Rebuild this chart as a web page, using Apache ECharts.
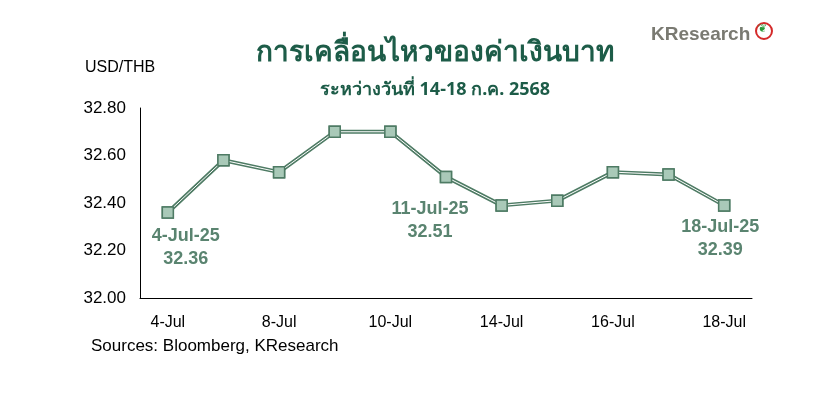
<!DOCTYPE html><html><head><meta charset="utf-8"><script src="https://cdn.jsdelivr.net/npm/echarts@6/dist/echarts.min.js"></script>
<style>body{margin:0;background:#fff}#c{width:838px;height:404px}</style></head><body><div id="c"></div><script>
const categories=['4-Jul','7-Jul','8-Jul','9-Jul','10-Jul','11-Jul','14-Jul','15-Jul','16-Jul','17-Jul','18-Jul'];
const values=[32.36,32.58,32.53,32.70,32.70,32.51,32.39,32.41,32.53,32.52,32.39];
const labelled={0:'4-Jul-25',5:'11-Jul-25',10:'18-Jul-25'};
const labelShift={0:[18,0],5:[-16,8],10:[-4,-2]};
const F='Liberation Sans, Arial, sans-serif';
const dark='#4e7b64';
const data=values.map((v,i)=>labelled[i]?{value:v,label:{show:true,position:'bottom',distance:6,offset:labelShift[i],formatter:labelled[i]+'\n'+v.toFixed(2),color:'#5a8470',fontSize:18,fontWeight:'bold',fontFamily:F,lineHeight:23,align:'center'}}:v);
const c=echarts.init(document.getElementById('c'));
c.setOption({animation:false,
grid:{left:140,right:86,top:108,bottom:106},
title:[{text:'การเคลื่อนไหวของค่าเงินบาท',left:430,top:34,textAlign:'center',textStyle:{color:'#1d5c48',fontSize:28,fontWeight:'bold',fontFamily:'Noto Sans, sans-serif'}},
{text:'ระหว่างวันที่ 14-18 ก.ค. 2568',left:430,top:76,textAlign:'center',textStyle:{color:'#1d5c48',fontSize:18,fontWeight:'bold',fontFamily:'Noto Sans, sans-serif'}},
{text:'USD/THB',left:80,top:55,textStyle:{color:'#000',fontSize:16,fontWeight:'normal',fontFamily:F}},
{text:'Sources: Bloomberg, KResearch',left:86,top:333,textStyle:{color:'#000',fontSize:17,fontWeight:'normal',fontFamily:F}},
{text:'KResearch',left:646,top:20,textStyle:{color:'#7a7a72',fontSize:19,fontWeight:'bold',fontFamily:F}}],
xAxis:{type:'category',data:categories,axisLine:{lineStyle:{color:'#000',width:1}},axisTick:{interval:1,length:6,lineStyle:{color:'#000'}},axisLabel:{interval:1,color:'#000',fontSize:16,fontFamily:F,margin:17}},
yAxis:{type:'value',min:32,max:32.8,interval:0.2,axisLine:{show:true,lineStyle:{color:'#000'}},axisTick:{show:false},splitLine:{show:false},axisLabel:{color:'#000',fontSize:17,fontFamily:F,formatter:v=>v.toFixed(2),margin:14}},
series:[{type:'line',data:data,symbol:'rect',symbolSize:11,lineStyle:{color:dark,width:4},itemStyle:{color:'#a9c9b8',borderColor:dark,borderWidth:1.5},z:2},
{type:'line',data:values,symbol:'none',lineStyle:{color:'#fff',width:1},z:3,silent:true},
{type:'line',data:values,symbol:'rect',symbolSize:11,lineStyle:{opacity:0},itemStyle:{color:'#a9c9b8',borderColor:dark,borderWidth:1.5},z:4,silent:true}],
graphic:[{type:'circle',shape:{cx:764,cy:31,r:8},style:{fill:'#fff',stroke:'#d42a2a',lineWidth:2}},
{type:'text',left:758,top:24,style:{text:'❦',fill:'#2a9a3a',font:'11px DejaVu Sans'}}]
});
</script></body></html>
